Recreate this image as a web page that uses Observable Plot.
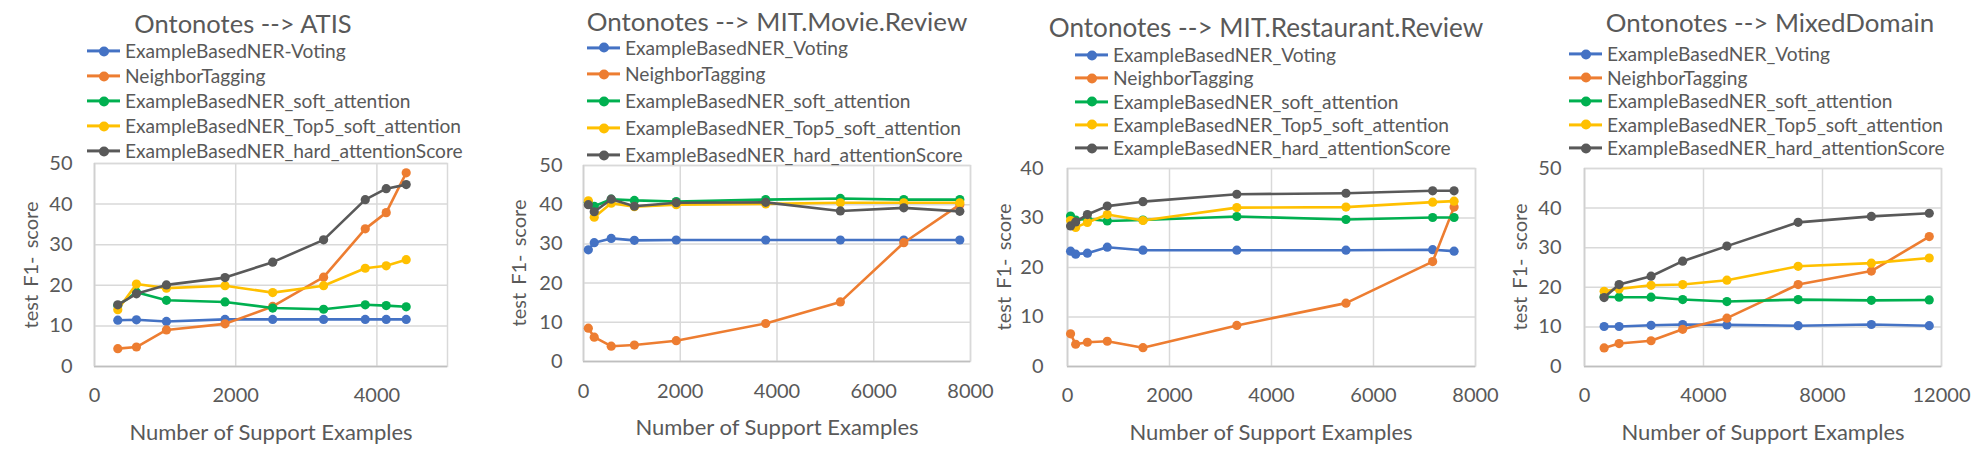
<!DOCTYPE html>
<html>
<head>
<meta charset="utf-8">
<script src="https://cdn.jsdelivr.net/npm/d3@7"></script>
<script src="https://cdn.jsdelivr.net/npm/@observablehq/plot@0.6"></script>
<style>
  html, body { margin: 0; padding: 0; background: #fff; }
  #root { position: relative; width: 1986px; height: 461px; overflow: hidden; font-family: Lato, "Open Sans", sans-serif; color: #595959; }
  #root div { line-height: 1; }
  .title { position: absolute; font-size: 24px; white-space: nowrap; transform: translate(-50%, -50%); }
  .leg { position: absolute; font-size: 19px; white-space: nowrap; display: flex; align-items: center; transform: translateY(-50%); }
  .sw { position: relative; width: 33px; height: 3px; margin-right: 5px; flex: none; }
  .sw i { position: absolute; left: 12px; top: -3.5px; width: 10px; height: 10px; border-radius: 50%; }
  .ytitle { position: absolute; font-size: 20px; white-space: nowrap; transform: translate(-50%, -50%) rotate(-90deg); }
  .xtitle { position: absolute; font-size: 21px; white-space: nowrap; transform: translate(-50%, -50%); }
</style>
</head>
<body>
<div id="root"></div>
<script>
// ---------- data ----------
const seriesNames = ["ExampleBasedNER_Voting", "NeighborTagging", "ExampleBasedNER_soft_attention", "ExampleBasedNER_Top5_soft_attention", "ExampleBasedNER_hard_attentionScore"];
const seriesNamesAtis = ["ExampleBasedNER-Voting", "NeighborTagging", "ExampleBasedNER_soft_attention", "ExampleBasedNER_Top5_soft_attention", "ExampleBasedNER_hard_attentionScore"];
const seriesColors = ["#4472C4", "#ED7D31", "#00B050", "#FFC000", "#595959"];

// Ontonotes --> ATIS
const atisX       = [330, 594, 1019, 1849, 2524, 3245, 3835, 4132, 4415];
const atisVoting  = [11.4, 11.5, 11.1, 11.6, 11.6, 11.6, 11.6, 11.6, 11.6];
const atisNeighbor= [4.4, 4.8, 9.0, 10.5, 14.8, 22.0, 33.9, 37.9, 47.7];
const atisSoft    = [15.0, 18.3, 16.3, 15.9, 14.4, 14.1, 15.2, 15.0, 14.7];
const atisTop5    = [14.0, 20.3, 19.3, 19.9, 18.2, 19.9, 24.2, 24.8, 26.3];
const atisHard    = [15.2, 17.9, 20.1, 21.9, 25.7, 31.2, 41.1, 43.8, 44.8];

// Ontonotes --> MIT.Movie.Review
const movieX       = [100, 222, 573, 1052, 1917, 3766, 5310, 6621, 7779];
const movieVoting  = [28.5, 30.3, 31.4, 30.9, 31.0, 31.0, 31.0, 31.0, 31.0];
const movieNeighbor= [8.5, 6.2, 3.9, 4.2, 5.3, 9.7, 15.2, 30.3, 40.0];
const movieSoft    = [40.6, 39.6, 41.4, 41.1, 40.8, 41.3, 41.6, 41.3, 41.3];
const movieTop5    = [41.0, 36.8, 40.4, 39.5, 40.0, 40.2, 40.5, 40.5, 40.5];
const movieHard    = [40.0, 38.2, 41.4, 39.6, 40.5, 40.6, 38.4, 39.2, 38.3];

// Ontonotes --> MIT.Restaurant.Review
const restX       = [60, 160, 390, 780, 1480, 3320, 5460, 7160, 7580];
const restVoting  = [23.3, 22.7, 22.9, 24.1, 23.5, 23.5, 23.5, 23.6, 23.3];
const restNeighbor= [6.6, 4.5, 4.9, 5.1, 3.8, 8.3, 12.8, 21.2, 32.2];
const restSoft    = [30.4, 29.6, 29.8, 29.4, 29.6, 30.3, 29.7, 30.1, 30.1];
const restTop5    = [29.5, 28.1, 29.1, 30.7, 29.5, 32.1, 32.2, 33.2, 33.4];
const restHard    = [28.4, 29.2, 30.7, 32.4, 33.3, 34.8, 35.0, 35.5, 35.5];

// Ontonotes --> MixedDomain
const mixedX       = [660, 1163, 2237, 3300, 4787, 7181, 9642, 11588];
const mixedVoting  = [10.1, 10.1, 10.4, 10.6, 10.5, 10.3, 10.6, 10.3];
const mixedNeighbor= [4.7, 5.8, 6.5, 9.4, 12.2, 20.7, 24.1, 32.8];
const mixedSoft    = [17.6, 17.5, 17.5, 16.9, 16.4, 16.9, 16.7, 16.8];
const mixedTop5    = [19.0, 19.6, 20.5, 20.7, 21.8, 25.3, 26.1, 27.4];
const mixedHard    = [17.4, 20.7, 22.8, 26.6, 30.4, 36.4, 37.9, 38.7];

const ticks50 = [0, 10, 20, 30, 40, 50];
const ticks40 = [0, 10, 20, 30, 40];
const xTicksAtis = [0, 2000, 4000];
const xTicks8000 = [0, 2000, 4000, 6000, 8000];
const xTicksMixed = [0, 4000, 8000, 12000];

const yTitleText = "test F1- score";
const xTitleText = "Number of Support Examples";

// ---------- layout ----------
const panels = [
  { title: "Ontonotes --> ATIS", names: seriesNamesAtis, x: atisX,
    ys: [atisVoting, atisNeighbor, atisSoft, atisTop5, atisHard],
    xDomain: [0, 5000], xTicks: xTicksAtis, yDomain: [0, 50], yTicks: ticks50,
    left: 0, width: 495, plot: [94, 447, 163, 366],
    titlePos: [243, 24], titleW: 217, legTop: 51, legStep: 25, legX: 87,
    yTitle: [30, 265], xTitle: [271, 432], yPad: 22, xPad: 21 },
  { title: "Ontonotes --> MIT.Movie.Review", names: seriesNames, x: movieX,
    ys: [movieVoting, movieNeighbor, movieSoft, movieTop5, movieHard],
    xDomain: [0, 8000], xTicks: xTicks8000, yDomain: [0, 50], yTicks: ticks50,
    left: 495, width: 530, plot: [583, 970, 165, 361],
    titlePos: [777, 21], titleW: 381, legTop: 47.5, legStep: 26.9, legX: 587,
    yTitle: [518, 263], xTitle: [777, 427], yPad: 21, xPad: 22 },
  { title: "Ontonotes --> MIT.Restaurant.Review", names: seriesNames, x: restX,
    ys: [restVoting, restNeighbor, restSoft, restTop5, restHard],
    xDomain: [0, 8000], xTicks: xTicks8000, yDomain: [0, 40], yTicks: ticks40,
    left: 990, width: 530, plot: [1067, 1475, 168, 366],
    titlePos: [1266, 27], titleW: 434, legTop: 55, legStep: 23.3, legX: 1075,
    yTitle: [1003, 267], xTitle: [1271, 432], yPad: 24, xPad: 21 },
  { title: "Ontonotes --> MixedDomain", names: seriesNames, x: mixedX,
    ys: [mixedVoting, mixedNeighbor, mixedSoft, mixedTop5, mixedHard],
    xDomain: [0, 12000], xTicks: xTicksMixed, yDomain: [0, 50], yTicks: ticks50,
    left: 1486, width: 500, plot: [1584, 1941, 168, 366],
    titlePos: [1770, 23], titleW: 329, legTop: 54, legStep: 23.6, legX: 1569,
    yTitle: [1519, 267], xTitle: [1763, 432], yPad: 23, xPad: 21 }
];
const legendTextW = 338;
const xTitleW = 283;
const yTitleW = 127;

const root = document.getElementById("root");
const textColor = "#595959";
const gridColor = "#d9d9d9";

function addDiv(cls, text, x, y) {
  const d = document.createElement("div");
  d.className = cls;
  d.textContent = text;
  d.style.left = x + "px";
  d.style.top = y + "px";
  root.appendChild(d);
  return d;
}
function fitFont(el, target) {
  const fs = parseFloat(getComputedStyle(el).fontSize);
  const w = el.offsetWidth;
  if (w > 0) el.style.fontSize = (fs * target / w).toFixed(2) + "px";
}

panels.forEach(p => {
  const [pl, pr, pt, pb] = p.plot;
  const svgTop = pt - 15;
  const svgH = 461 - svgTop;
  const marks = [
    Plot.gridY(p.yTicks, { stroke: gridColor, strokeOpacity: 1, strokeWidth: 1.5 }),
    Plot.gridX(p.xTicks, { stroke: gridColor, strokeOpacity: 1, strokeWidth: 1.5 }),
    Plot.frame({ stroke: gridColor, strokeWidth: 1.5 }),
    Plot.ruleY([p.yDomain[0]], { stroke: "#bfbfbf", strokeWidth: 1.5 }),
    Plot.ruleX([p.xDomain[0]], { stroke: "#d0d0d0", strokeWidth: 1.5 }),
    Plot.axisY({ ticks: p.yTicks, tickSize: 0, tickPadding: p.yPad, fontSize: 20, fill: textColor, label: null, tickFormat: d3.format("d") }),
    Plot.axisX({ ticks: p.xTicks, tickSize: 0, tickPadding: p.xPad, fontSize: 20, fill: textColor, label: null, tickFormat: d3.format("d") })
  ];
  p.ys.forEach((ys, i) => {
    const rows = p.x.map((xv, j) => ({ x: xv, y: ys[j] }));
    marks.push(Plot.line(rows, { x: "x", y: "y", stroke: seriesColors[i], strokeWidth: 2.6 }));
    marks.push(Plot.dot(rows, { x: "x", y: "y", fill: seriesColors[i], r: 4.6 }));
  });
  const chart = Plot.plot({
    width: p.width,
    height: svgH,
    marginLeft: pl - p.left,
    marginRight: p.left + p.width - pr,
    marginTop: pt - svgTop,
    marginBottom: svgH - (pb - svgTop),
    x: { domain: p.xDomain },
    y: { domain: p.yDomain },
    style: { background: "transparent", overflow: "visible", fontFamily: "Lato, 'Open Sans', sans-serif" },
    marks
  });
  chart.style.position = "absolute";
  chart.style.left = p.left + "px";
  chart.style.top = svgTop + "px";
  root.appendChild(chart);

  const t = addDiv("title", p.title, p.titlePos[0], p.titlePos[1]);
  fitFont(t, p.titleW);
  p.names.forEach((name, i) => {
    const d = document.createElement("div");
    d.className = "leg";
    d.style.left = p.legX + "px";
    d.style.top = (p.legTop + i * p.legStep) + "px";
    const sw = document.createElement("span");
    sw.className = "sw";
    sw.style.background = seriesColors[i];
    const dot = document.createElement("i");
    dot.style.background = seriesColors[i];
    sw.appendChild(dot);
    const txt = document.createElement("span");
    txt.className = "legtxt";
    txt.textContent = name;
    d.appendChild(sw);
    d.appendChild(txt);
    root.appendChild(d);
  });
  const yt = addDiv("ytitle", yTitleText, p.yTitle[0], p.yTitle[1]);
  const w0 = yt.offsetWidth;
  yt.style.wordSpacing = ((yTitleW - w0) / 2).toFixed(1) + "px";
  const xt = addDiv("xtitle", xTitleText, p.xTitle[0], p.xTitle[1]);
  fitFont(xt, xTitleW);
});
// legend text size from the longest entry
const legTexts = Array.from(document.querySelectorAll(".legtxt"));
const longest = legTexts.filter(s => s.textContent === "ExampleBasedNER_hard_attentionScore")[0];
const lw = longest.offsetWidth;
const lfs = 19 * legendTextW / lw;
document.querySelectorAll(".leg").forEach(d => d.style.fontSize = lfs.toFixed(2) + "px");
</script>
</body>
</html>
